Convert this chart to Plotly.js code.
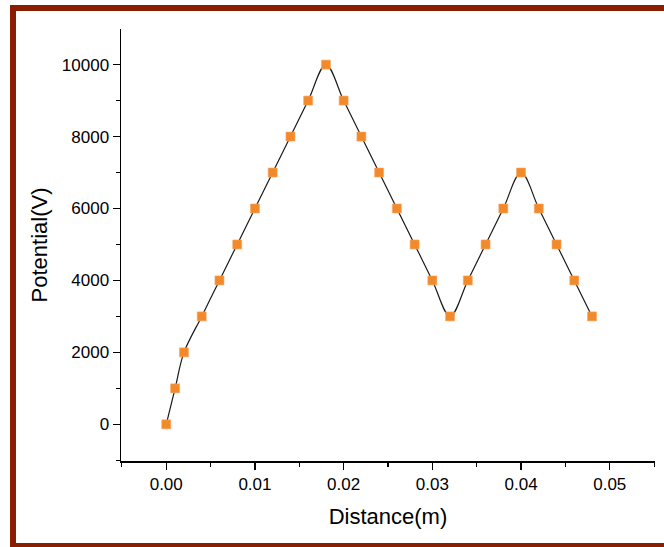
<!DOCTYPE html>
<html>
<head>
<meta charset="utf-8">
<script src="https://cdn.plot.ly/plotly-3.0.1.min.js"></script>
<style>
  html, body { margin: 0; padding: 0; background: #fff; overflow: hidden; }
  #wrap { position: relative; width: 664px; height: 547px; overflow: hidden; }
  #chart { position: absolute; left: 0; top: 0; width: 664px; height: 547px; }
  #frame {
    position: absolute; left: 10px; top: 5px;
    width: 700px; height: 532px;
    border: 6px solid #8b1e02; pointer-events: none;
  }
</style>
</head>
<body>
<div id="wrap">
  <div id="chart"></div>
  <div id="frame"></div>
</div>
<script>
// Potential along the path (distance in metres, potential in volts)
const distance = [0, 0.001, 0.002, 0.004, 0.006, 0.008, 0.010, 0.012, 0.014, 0.016,
                  0.018, 0.020, 0.022, 0.024, 0.026, 0.028, 0.030, 0.032, 0.034,
                  0.036, 0.038, 0.040, 0.042, 0.044, 0.046, 0.048];
const potential = [0, 1000, 2000, 3000, 4000, 5000, 6000, 7000, 8000, 9000,
                   10000, 9000, 8000, 7000, 6000, 5000, 4000, 3000, 4000,
                   5000, 6000, 7000, 6000, 5000, 4000, 3000];

const xTicks = [0, 0.01, 0.02, 0.03, 0.04, 0.05];
const xTickText = ['0.00', '0.01', '0.02', '0.03', '0.04', '0.05'];
const yTicks = [0, 2000, 4000, 6000, 8000, 10000];
const yTickText = ['0', '2000', '4000', '6000', '8000', '10000'];

const curve = {
  x: distance, y: potential, type: 'scatter', mode: 'lines',
  line: { shape: 'spline', smoothing: 1, color: '#1a1a1a', width: 1.2 },
  hoverinfo: 'skip'
};
const points = {
  x: distance, y: potential, type: 'scatter', mode: 'markers',
  marker: { symbol: 'square', size: 9, color: '#f28a2a',
            line: { color: '#f6a66a', width: 0.6 } }
};

const family = 'Liberation Sans, Arial, sans-serif';
const tickFont = { family: family, size: 17, color: '#000' };
const titleFont = { family: family, size: 22, color: '#000' };

const layout = {
  width: 664, height: 547,
  margin: { l: 121, r: 9, t: 29, b: 86 },
  paper_bgcolor: '#fff', plot_bgcolor: '#fff',
  showlegend: false,
  font: tickFont,
  xaxis: {
    range: [-0.0051, 0.0551],
    tickvals: xTicks, ticktext: xTickText,
    ticks: 'outside', ticklen: 7, tickwidth: 1.2, tickcolor: '#000',
    minor: { dtick: 0.005, ticks: 'outside', ticklen: 4, tickwidth: 1.2, tickcolor: '#000', showgrid: false },
    showline: true, linecolor: '#000', linewidth: 1.5,
    showgrid: false, zeroline: false,
    tickfont: tickFont,
    title: { text: 'Distance(m)', font: titleFont, standoff: 15 }
  },
  yaxis: {
    range: [-1020, 10990],
    tickvals: yTicks, ticktext: yTickText,
    ticks: 'outside', ticklen: 7, tickwidth: 1.2, tickcolor: '#000',
    minor: { dtick: 1000, ticks: 'outside', ticklen: 4, tickwidth: 1.2, tickcolor: '#000', showgrid: false },
    showline: true, linecolor: '#000', linewidth: 1.5,
    showgrid: false, zeroline: false,
    tickfont: tickFont,
    title: { text: 'Potential(V)', font: titleFont, standoff: 8 }
  }
};

Plotly.newPlot('chart', [curve, points], layout, { displayModeBar: false, staticPlot: true });
</script>
</body>
</html>
